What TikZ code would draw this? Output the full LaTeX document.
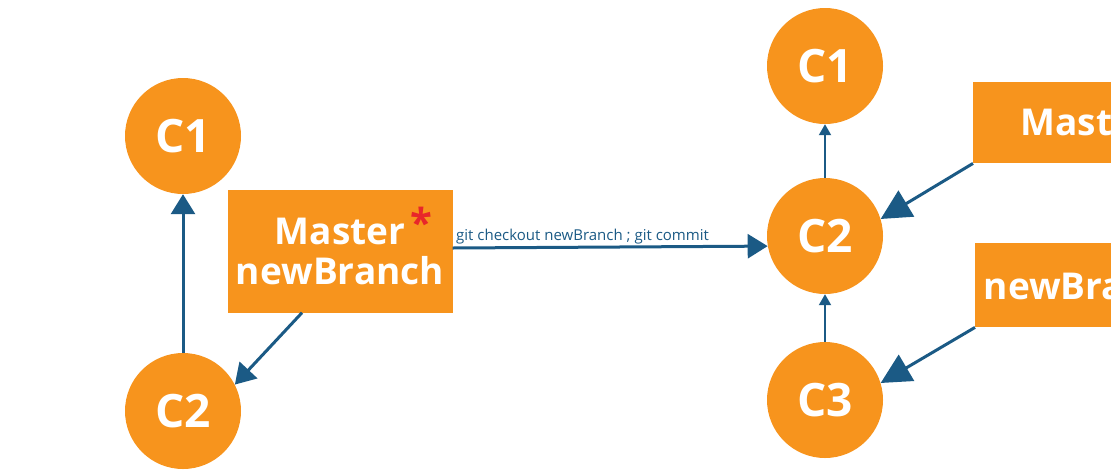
\documentclass[tikz,border=0pt]{standalone}
\usepackage{fontspec}
\setmainfont{Open Sans}
\usepackage{xcolor}
\usetikzlibrary{arrows.meta, positioning}
\definecolor{gitorange}{HTML}{F7941D}
\definecolor{gitblue}{HTML}{1B5A85}
\definecolor{gitred}{HTML}{E8262A}

\begin{document}
\begin{tikzpicture}[
    x=1pt, y=-1pt,
    commit/.style={circle, fill=gitorange, text=white, minimum size=116pt, inner sep=0pt, font=\fontsize{46}{48}\selectfont\bfseries},
    branch/.style={rectangle, fill=gitorange, text=white, align=center, minimum width=225pt, font=\fontsize{37}{40}\selectfont\bfseries},
    arrow/.style={-{Triangle[length=20pt, width=24pt]}, line width=3pt, color=gitblue},
    bigarrow/.style={-{Triangle[length=30pt, width=30pt]}, line width=3pt, color=gitblue},
    smallarrow/.style={-{Triangle[length=11pt, width=12pt]}, line width=2pt, color=gitblue},
    cmdlabel/.style={font=\fontsize{15}{17}\selectfont, text=gitblue, inner sep=2pt}
]
\useasboundingbox (0,0) rectangle (1111,469);
\clip (0,0) rectangle (1111,469);

% before: both branches on C2
\node[commit] (lc1) at (183,136) {C1};
\node[commit] (lc2) at (183,411) {C2};
\node[branch, minimum height=123pt] (lbox) at (340,251) {Master\\newBranch};
\node[text=gitred, font=\fontsize{40}{40}\selectfont\bfseries] (star) at (421,222) {*};

% after: newBranch moves to C3
\node[commit] (rc1) at (825,66) {C1};
\node[commit] (rc2) at (825,236) {C2};
\node[commit] (rc3) at (825,400) {C3};
\node[branch, minimum height=81pt, anchor=north west] (rmaster) at (973,82) {Master};
\node[branch, minimum height=84pt, anchor=north west] (rnew) at (975,243) {newBranch};

\draw[arrow] (lc2) -- (lc1);
\draw[arrow] ([xshift=-38pt]lbox.south) -- (lc2.27);
\draw[arrow] ([yshift=3pt]lbox.east) -- (rc2.190)
    node[cmdlabel, pos=0, anchor=south west] (cmd) {git checkout newBranch ; git commit};

\draw[smallarrow] (rc2) -- (rc1);
\draw[smallarrow] (rc3) -- (rc2);
\draw[bigarrow] (rmaster.south west) -- (rc2.17);
\draw[bigarrow] (rnew.south west) -- (rc3.17);
\end{tikzpicture}
\end{document}
